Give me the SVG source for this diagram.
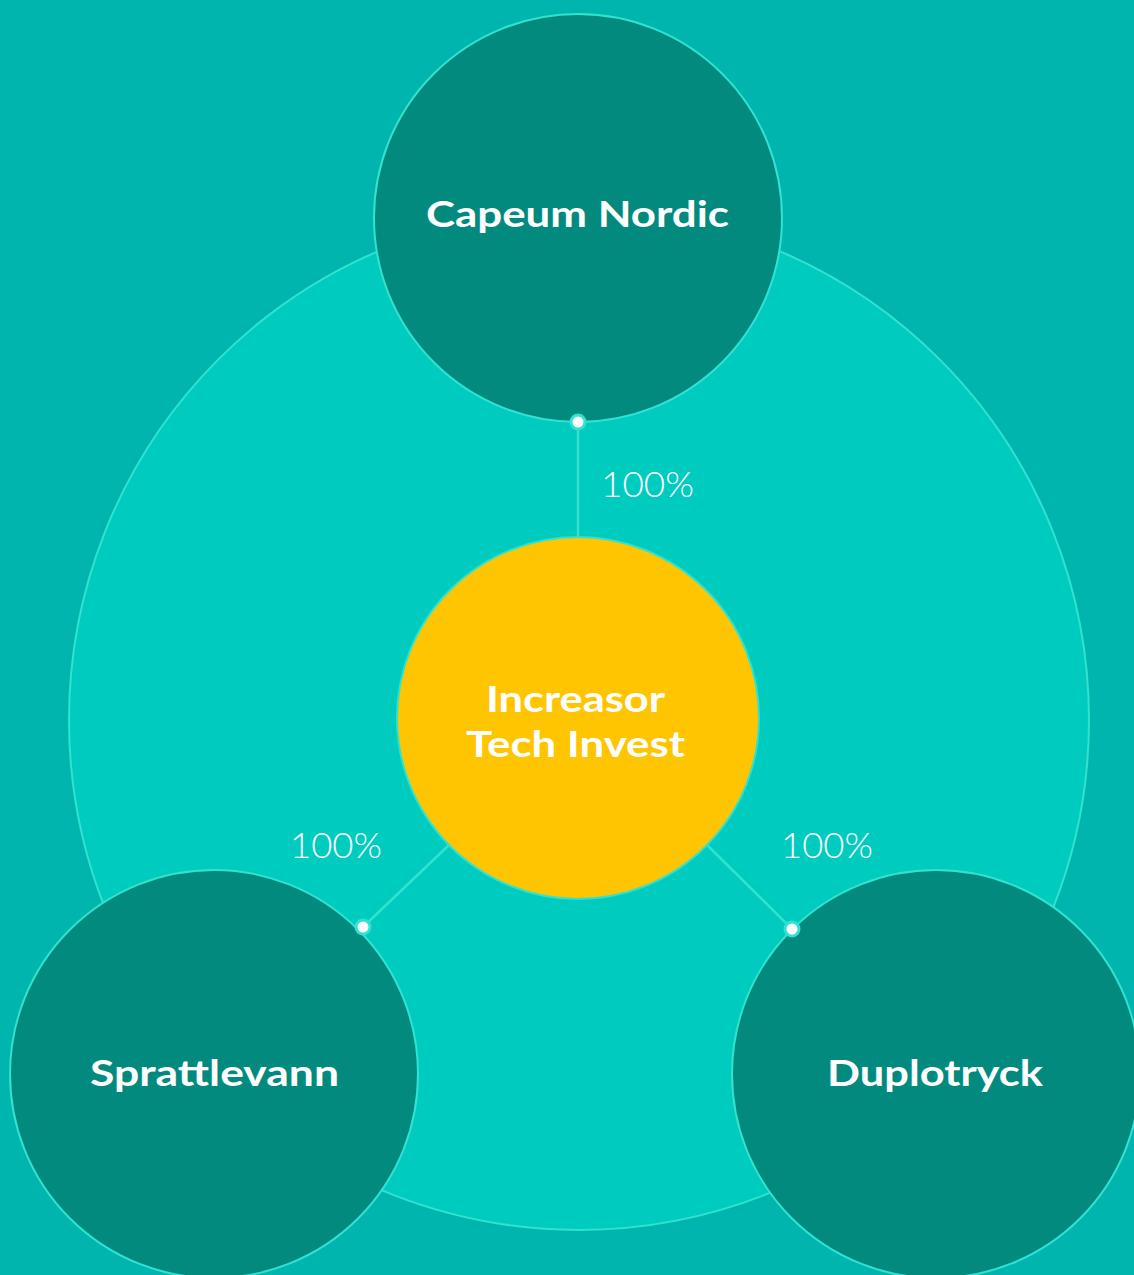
<svg xmlns="http://www.w3.org/2000/svg" width="1134" height="1275" viewBox="0 0 1134 1275">
  <style>
    .ring { fill: #00cbbf; stroke: #30e2cf; stroke-width: 2; }
    .node { fill: #038a7e; stroke: #30e2cf; stroke-width: 2; }
    .hub { fill: #ffc500; stroke: #30e2cf; stroke-width: 2; }
    .label { font-family: Lato, "Open Sans", "Liberation Sans", sans-serif; font-weight: 700; font-size: 37px; fill: #ffffff; text-anchor: middle; }
    .pct { font-family: Lato, "Open Sans", "Liberation Sans", sans-serif; font-weight: 300; font-size: 36px; fill: #ffffff; text-anchor: middle; }
    .link { stroke: #30e2cf; stroke-width: 2.5; fill: none; }
    .dot { fill: #ffffff; stroke: #30e2cf; stroke-width: 3; }
  </style>

  <!-- background -->
  <rect x="0" y="0" width="1134" height="1275" fill="#00b5ae"/>

  <!-- outer ring -->
  <circle class="ring" cx="579" cy="720" r="510"/>

  <!-- connectors -->
  <g id="connectors">
    <line class="link" x1="578" y1="422" x2="578" y2="537"/>
    <line class="link" x1="363" y1="927" x2="449" y2="845"/>
    <line class="link" x1="792" y1="929" x2="707" y2="845"/>
    <text class="pct" x="647.5" y="497" textLength="93" lengthAdjust="spacingAndGlyphs">100%</text>
    <text class="pct" x="336" y="858" textLength="92" lengthAdjust="spacingAndGlyphs">100%</text>
    <text class="pct" x="827" y="858" textLength="92" lengthAdjust="spacingAndGlyphs">100%</text>
  </g>

  <g id="capeum-nordic">
    <circle class="node" cx="578" cy="218" r="204"/>
    <text class="label" x="577.5" y="227" textLength="303" lengthAdjust="spacingAndGlyphs">Capeum Nordic</text>
  </g>

  <g id="increasor-tech-invest">
    <circle class="hub" cx="578" cy="718" r="181"/>
    <text class="label" x="575.5" y="712" textLength="179" lengthAdjust="spacingAndGlyphs">Increasor</text>
    <text class="label" x="575.5" y="757" textLength="219" lengthAdjust="spacingAndGlyphs">Tech Invest</text>
  </g>

  <g id="sprattlevann">
    <circle class="node" cx="214" cy="1074" r="204"/>
    <text class="label" x="214.5" y="1086" textLength="249" lengthAdjust="spacingAndGlyphs">Sprattlevann</text>
  </g>

  <g id="duplotryck">
    <circle class="node" cx="936" cy="1074" r="204"/>
    <text class="label" x="935" y="1086" textLength="216" lengthAdjust="spacingAndGlyphs">Duplotryck</text>
  </g>

  <!-- connector end points -->
  <g id="anchors">
    <circle class="dot" cx="578" cy="422" r="7"/>
    <circle class="dot" cx="363" cy="927" r="7"/>
    <circle class="dot" cx="792" cy="929" r="7"/>
  </g>
</svg>
